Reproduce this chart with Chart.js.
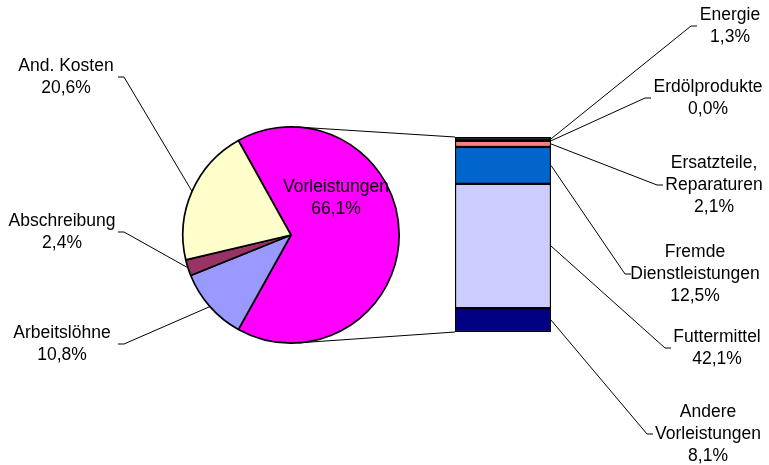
<!DOCTYPE html>
<html>
<head>
<meta charset="utf-8">
<script src="https://cdn.jsdelivr.net/npm/chart.js@4"></script>
<style>
    html, body { margin: 0; padding: 0; background: #fff; }
    #wrap { position: relative; width: 769px; height: 465px; }
    #wrap canvas { position: absolute; left: 0; top: 0; }
</style>
</head>
<body>
<div id="wrap">
    <canvas id="pie" width="769" height="465"></canvas>
    <canvas id="bar" width="769" height="465"></canvas>
</div>
<script>
// pie: total costs
const PIE_LABELS = ["Vorleistungen", "Arbeitslöhne", "Abschreibung", "And. Kosten"];
const PIE_VALUES = [66.1, 10.8, 2.4, 20.6];
const PIE_COLORS = ["#FF00FF", "#9999FF", "#993366", "#FFFFCC"];

// bar: breakdown of Vorleistungen, top to bottom
const BAR_LABELS = ["Energie", "Erdölprodukte", "Ersatzteile,\nReparaturen", "Fremde\nDienstleistungen", "Futtermittel", "Andere\nVorleistungen"];
const BAR_VALUES = [1.3, 0.0, 2.1, 12.5, 42.1, 8.1];
const BAR_COLORS = ["#1a1a1a", "#CCFFFF", "#FF8080", "#0066CC", "#CCCCFF", "#000080"];

// label boxes: centre x, middle y, x where the leader line meets the box
const PIE_LABEL_POS = [
    { cx: 336, cy: 198, ax: null },
    { cx: 62, cy: 344, ax: 118 },
    { cx: 62, cy: 232, ax: 118 },
    { cx: 66, cy: 77, ax: 118 },
];
const BAR_LABEL_POS = [
    { cx: 730, cy: 26, ax: 697 },
    { cx: 708, cy: 98, ax: 651 },
    { cx: 714, cy: 185, ax: 663 },
    { cx: 695, cy: 274, ax: 631 },
    { cx: 717, cy: 348, ax: 671 },
    { cx: 708, cy: 434, ax: 653 },
];

const FONT = "17.5px 'Liberation Sans', Arial, sans-serif";
const LINE_H = 22;

function pct(v) {
    return v.toFixed(1).replace(".", ",") + "%";
}

function drawLabel(ctx, text, value, cx, cy) {
    const lines = text.split("\n").concat([pct(value)]);
    ctx.save();
    ctx.font = FONT;
    ctx.fillStyle = "#000";
    ctx.textAlign = "center";
    ctx.textBaseline = "middle";
    const y0 = cy - ((lines.length - 1) * LINE_H) / 2;
    lines.forEach((l, i) => ctx.fillText(l, cx, y0 + i * LINE_H));
    ctx.restore();
}

function leader(ctx, pts) {
    ctx.save();
    ctx.strokeStyle = "#000";
    ctx.lineWidth = 1;
    ctx.beginPath();
    ctx.moveTo(pts[0][0], pts[0][1]);
    for (let i = 1; i < pts.length; i++) ctx.lineTo(pts[i][0], pts[i][1]);
    ctx.stroke();
    ctx.restore();
}

// split slice centred on the right, facing the bar
const pieTotal = PIE_VALUES.reduce((a, b) => a + b, 0);
const pieRotation = 90 - (PIE_VALUES[0] / pieTotal) * 180;

const pieLabels = {
    id: "pieLabels",
    afterDraw(chart) {
        const ctx = chart.ctx;
        const arcs = chart.getDatasetMeta(0).data;
        arcs.forEach((arc, i) => {
            const p = PIE_LABEL_POS[i];
            if (p.ax !== null) {
                const mid = (arc.startAngle + arc.endAngle) / 2;
                const ex = arc.x + Math.cos(mid) * arc.outerRadius;
                const ey = arc.y + Math.sin(mid) * arc.outerRadius;
                leader(ctx, [[p.ax, p.cy], [p.ax + 6, p.cy], [ex, ey]]);
            }
            drawLabel(ctx, PIE_LABELS[i], PIE_VALUES[i], p.cx, p.cy);
        });
    },
};

const pieChart = new Chart(document.getElementById("pie"), {
    type: "pie",
    data: {
        labels: PIE_LABELS,
        datasets: [
            {
                data: PIE_VALUES,
                backgroundColor: PIE_COLORS,
                borderColor: "#000",
                borderWidth: 1.7,
            },
        ],
    },
    options: {
        responsive: false,
        animation: false,
        rotation: pieRotation,
        layout: { padding: { left: 182, right: 369, top: 126, bottom: 121 } },
        plugins: { legend: { display: false }, tooltip: { enabled: false } },
    },
    plugins: [pieLabels],
});

const barTotal = BAR_VALUES.reduce((a, b) => a + b, 0);

function tangentPoint(cx, cy, r, px, py, sign) {
    const dx = px - cx, dy = py - cy;
    const d = Math.hypot(dx, dy);
    const a = Math.atan2(dy, dx) + sign * Math.acos(r / d);
    return [cx + r * Math.cos(a), cy + r * Math.sin(a)];
}

const barLabels = {
    id: "barLabels",
    afterDraw(chart) {
        const ctx = chart.ctx;
        // connectors from the pie to the bar's left corners
        const arc = pieChart.getDatasetMeta(0).data[0];
        const topEl = chart.getDatasetMeta(0).data[0];
        const botEl = chart.getDatasetMeta(BAR_VALUES.length - 1).data[0];
        const left = topEl.x - topEl.width / 2;
        const topY = Math.min(topEl.y, topEl.base);
        const botY = Math.max(botEl.y, botEl.base);
        const r = arc.outerRadius;
        leader(ctx, [tangentPoint(arc.x, arc.y, r, left, topY, -1), [left, topY]]);
        leader(ctx, [tangentPoint(arc.x, arc.y, r, left, botY, 1), [left, botY]]);

        BAR_LABELS.forEach((name, i) => {
            const el = chart.getDatasetMeta(i).data[0];
            const p = BAR_LABEL_POS[i];
            const rx = el.x + el.width / 2;
            const my = (el.y + el.base) / 2;
            leader(ctx, [[rx, my], [p.ax - 6, p.cy], [p.ax, p.cy]]);
            drawLabel(ctx, name, BAR_VALUES[i], p.cx, p.cy);
        });
    },
};

// y axis reversed so the first dataset sits on top of the stack
const barDatasets = BAR_LABELS.map((name, i) => ({
    label: name,
    data: [BAR_VALUES[i]],
    backgroundColor: BAR_COLORS[i],
    borderColor: "#000",
    borderWidth: 1.5,
    borderSkipped: false,
    barPercentage: 1,
    categoryPercentage: 1,
}));

new Chart(document.getElementById("bar"), {
    type: "bar",
    data: { labels: [""], datasets: barDatasets },
    options: {
        responsive: false,
        animation: false,
        layout: { padding: { left: 455, right: 218, top: 137, bottom: 133 } },
        scales: {
            x: { stacked: true, display: false },
            y: { stacked: true, display: false, min: 0, max: barTotal, reverse: true },
        },
        plugins: { legend: { display: false }, tooltip: { enabled: false } },
    },
    plugins: [barLabels],
});
</script>
</body>
</html>
